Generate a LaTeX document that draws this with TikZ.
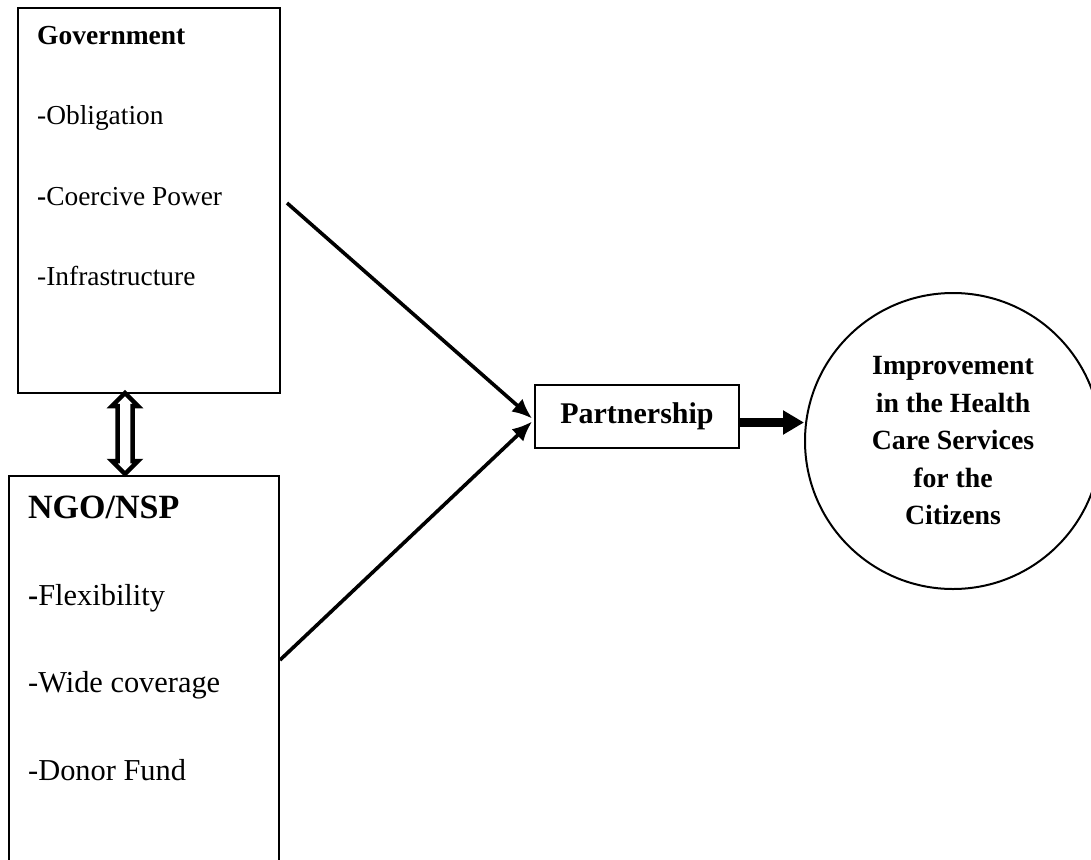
\documentclass[tikz,border=0pt]{standalone}
\usepackage{fontspec}
\setmainfont{Liberation Serif}
\usetikzlibrary{arrows.meta,calc}
\begin{document}
\begin{tikzpicture}[x=1pt,y=-1pt,
  box/.style={draw, line width=1.8pt, rectangle, inner sep=0pt},
  govitem/.style={anchor=base west, inner sep=0pt, font=\fontsize{27.4}{32}\selectfont},
  ngoitem/.style={anchor=base west, inner sep=0pt, font=\fontsize{30.4}{36}\selectfont},
  head/.style={anchor=base west, inner sep=0pt, font=\bfseries\fontsize{27.5}{32}\selectfont},
  bighead/.style={anchor=base west, inner sep=0pt, font=\bfseries\fontsize{34}{40}\selectfont},
  link/.style={line width=3.6pt, -{Latex[length=20pt,width=17pt]}},
  fatlink/.style={line width=9pt, -{Triangle[length=21pt,width=23pt]}},
  dblarrow/.style={draw, fill=white, line width=4.5pt, line join=miter}
]
\useasboundingbox (0,0) rectangle (1091,859);

% boxes
\node[box, minimum width=262pt, minimum height=385pt, anchor=north west] (gov) at (17,7) {};
\node[box, minimum width=270pt, minimum height=400pt, anchor=north west] (ngo) at (8,475) {};

% government texts
\node[head] (govt) at (37,45) {Government};
\node[govitem] (g1) at (37,124) {-Obligation};
\node[govitem] (g2) at (37,205) {\textbf{-}Coercive Power};
\node[govitem] (g3) at (37,285) {-Infrastructure};

% ngo texts
\node[bighead] (ngot) at (28,518) {NGO/NSP};
\node[ngoitem] (n1) at (28,605) {\textbf{-}Flexibility};
\node[ngoitem] (n2) at (28,692) {-Wide coverage};
\node[ngoitem] (n3) at (28,780) {-Donor Fund};

% partnership
\node[box, minimum width=204pt, minimum height=63pt,
      font=\bfseries\fontsize{30}{36}\selectfont] (part) at (637,416.5) {Partnership};

% outcome circle
\node[draw, circle, line width=2pt, minimum size=296pt, inner sep=0pt, align=center,
      font=\bfseries\fontsize{27.8}{37.5}\selectfont] (imp) at (953,441)
  {Improvement\\in the Health\\Care Services\\for the\\Citizens};

% connectors
\coordinate (gstart) at (287,203);
\coordinate (nstart) at (280,660);
\draw[link] (gstart) -- ([xshift=-2pt,yshift=-2pt]part.west);
\draw[link] (nstart) -- ([xshift=-2pt,yshift=-5pt]part.west);
\draw[fatlink] ([yshift=-6pt]part.east) -- ([yshift=-6pt]part.east -| imp.west);

% hollow double arrow between government and NGO boxes
\draw[dblarrow] (125,393) -- (138,406) -- (132.5,406) -- (132.5,461) -- (138,461)
  -- (125,474) -- (112,461) -- (117.5,461) -- (117.5,406) -- (112,406) -- cycle;
\end{tikzpicture}
\end{document}
